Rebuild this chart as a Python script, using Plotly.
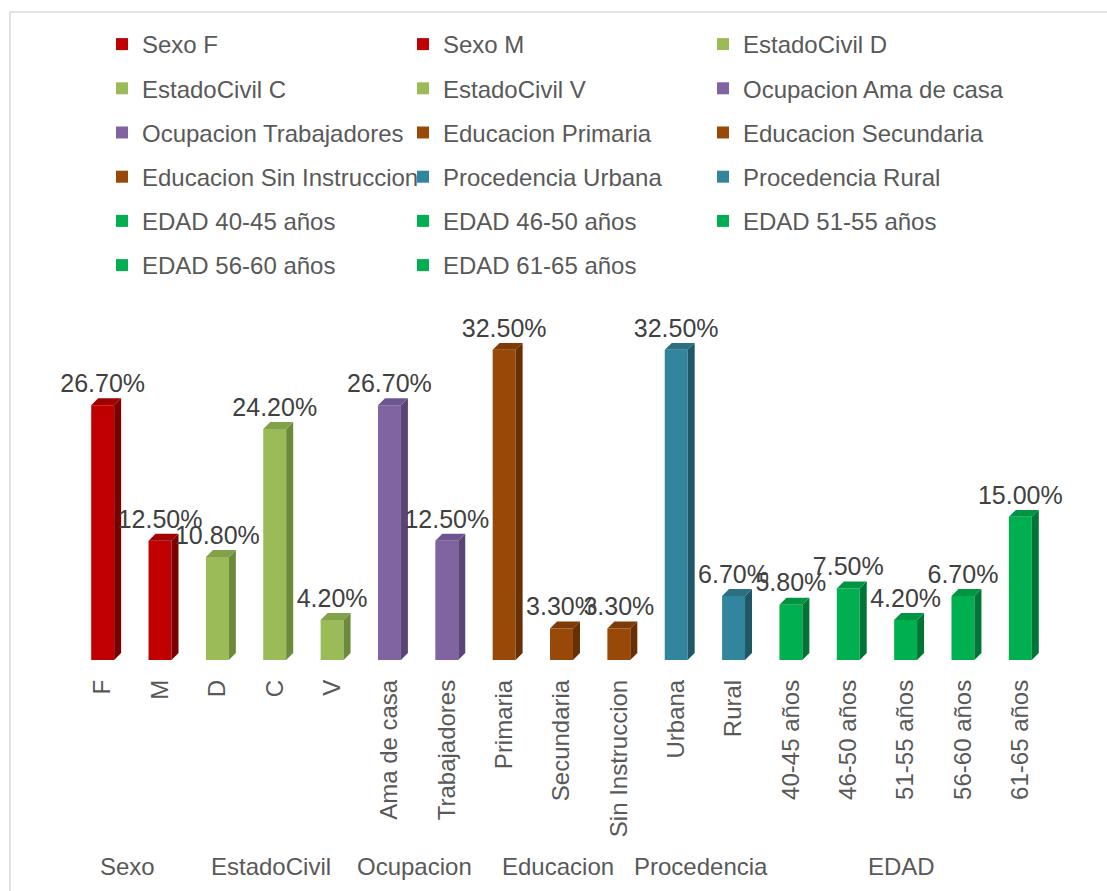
import plotly.graph_objects as go

# Categories, their parent groups and the percentage of each
groups = ["Sexo", "EstadoCivil", "Ocupacion", "Educacion", "Procedencia", "EDAD"]
group_of = ["Sexo", "Sexo",
            "EstadoCivil", "EstadoCivil", "EstadoCivil",
            "Ocupacion", "Ocupacion",
            "Educacion", "Educacion", "Educacion",
            "Procedencia", "Procedencia",
            "EDAD", "EDAD", "EDAD", "EDAD", "EDAD"]
categories = ["F", "M",
              "D", "C", "V",
              "Ama de casa", "Trabajadores",
              "Primaria", "Secundaria", "Sin Instruccion",
              "Urbana", "Rural",
              "40-45 años", "46-50 años", "51-55 años", "56-60 años", "61-65 años"]
values = [26.70, 12.50,
          10.80, 24.20, 4.20,
          26.70, 12.50,
          32.50, 3.30, 3.30,
          32.50, 6.70,
          5.80, 7.50, 4.20, 6.70, 15.00]

# (front, side, top) shades per group
palette = {
    "Sexo":        ("#C00000", "#7A0000", "#A00000"),
    "EstadoCivil": ("#9BBB59", "#6B8A3A", "#82A24A"),
    "Ocupacion":   ("#8064A2", "#5A4676", "#6C5590"),
    "Educacion":   ("#984807", "#673004", "#7E3B05"),
    "Procedencia": ("#31859C", "#1F5766", "#2A6F82"),
    "EDAD":        ("#00B050", "#007535", "#009443"),
}

FONT = "Arial, Liberation Sans, sans-serif"
TXT = "#595959"

W = 0.40     # front face width (category units)
DX = 0.122   # depth offset along x
DY = 0.73    # depth offset along y (percent units)

fig = go.Figure()
legend_ids = ["legend", "legend2", "legend3"]

for k, (g, cat, v) in enumerate(zip(group_of, categories, values)):
    front, side, top = palette[g]
    name = f"{g} {cat}"
    lg = legend_ids[k % 3]
    fig.add_trace(go.Bar(
        x=[k], y=[v], width=W, name=name,
        marker=dict(color=front, line=dict(width=0)),
        legend=lg, legendgroup=name, legendrank=k,
        hovertemplate=f"{name}: %{{y:.2f}}%<extra></extra>",
    ))
    xr = k + W / 2
    xl = k - W / 2
    # side face
    fig.add_trace(go.Scatter(
        x=[xr, xr + DX, xr + DX, xr, xr], y=[0, DY, v + DY, v, 0],
        mode="lines", fill="toself", fillcolor=side, line=dict(width=0),
        showlegend=False, hoverinfo="skip",
    ))
    # top face
    fig.add_trace(go.Scatter(
        x=[xl, xl + DX, xr + DX, xr, xl], y=[v, v + DY, v + DY, v, v],
        mode="lines", fill="toself", fillcolor=top, line=dict(width=0),
        showlegend=False, hoverinfo="skip",
    ))

# value labels
fig.add_trace(go.Scatter(
    x=list(range(len(values))), y=[v + DY for v in values],
    mode="text", text=[f"{v:.2f}%" for v in values],
    textposition="top center",
    textfont=dict(family=FONT, size=25, color="#404040"),
    cliponaxis=False, showlegend=False, hoverinfo="skip",
))

# group labels under the category labels
annotations = []
for g in groups:
    idx = [i for i, gg in enumerate(group_of) if gg == g]
    annotations.append(dict(
        x=sum(idx) / len(idx), xref="x", y=-0.617, yref="paper",
        text=g, showarrow=False, yanchor="middle", xshift=-4,
        font=dict(family=FONT, size=24, color=TXT),
    ))

H = 891.0
legend_common = dict(
    orientation="v", xref="container", yref="container",
    yanchor="top", xanchor="left", y=1 - 22 / H,
    font=dict(family=FONT, size=24, color=TXT),
    bgcolor="rgba(0,0,0,0)", borderwidth=0,
    tracegroupgap=10, traceorder="grouped",
)

fig.update_layout(
    width=1107, height=891,
    margin=dict(l=74, r=58, t=326, b=231, autoexpand=False),
    paper_bgcolor="white", plot_bgcolor="white",
    barmode="overlay",
    showlegend=True,
    legend=dict(legend_common, x=102 / 1107),
    legend2=dict(legend_common, x=403 / 1107),
    legend3=dict(legend_common, x=703 / 1107),
    xaxis=dict(
        range=[-0.5, 16.5], tickmode="array",
        tickvals=list(range(len(categories))), ticktext=categories,
        tickangle=-90, ticks="", showgrid=False, zeroline=False, showline=False,
        tickfont=dict(family=FONT, size=24, color=TXT),
        ticklabelstandoff=14, fixedrange=True,
    ),
    yaxis=dict(range=[0, 35], visible=False, fixedrange=True),
    annotations=annotations,
    shapes=[dict(
        type="rect", xref="paper", yref="paper",
        x0=(10 - 74) / 975.0, x1=1.1, y0=-0.75, y1=(660 - 12) / 334.0,
        line=dict(color="#D9D9D9", width=1.5), fillcolor="rgba(0,0,0,0)",
        layer="below",
    )],
)

fig.write_html("out.html")
